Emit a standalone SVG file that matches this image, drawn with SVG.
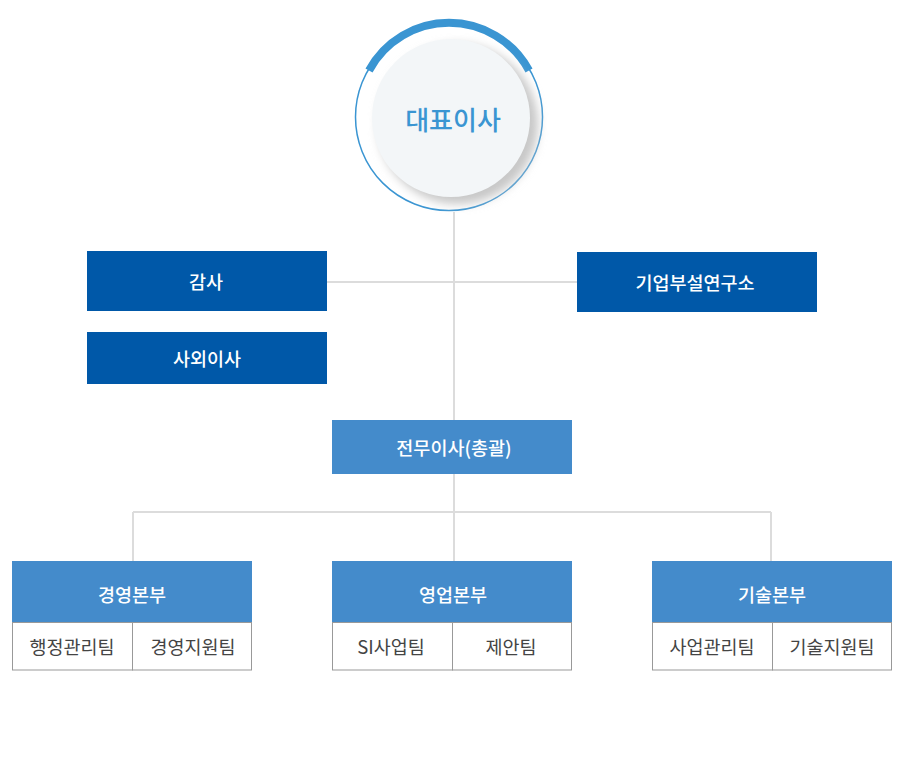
<svg xmlns="http://www.w3.org/2000/svg" width="906" height="761" viewBox="0 0 906 761">
<defs>
<style>
.lbl{font-family:"Noto Sans CJK KR","Noto Sans",sans-serif;font-size:18.5px;font-weight:500;fill:#fff;text-anchor:middle;dominant-baseline:central}
.sub{font-family:"Noto Sans CJK KR","Noto Sans",sans-serif;font-size:18.5px;fill:#444;text-anchor:middle;dominant-baseline:central}
.dark{fill:#0058a8}
.mid{fill:#448bcb}
.cell{fill:#fff;stroke:#999;stroke-width:1}
.con{stroke:#dcdcdc;stroke-width:2;fill:none}
</style>
<filter id="sh" x="-30%" y="-30%" width="160%" height="160%">
<feGaussianBlur stdDeviation="5"/>
</filter>
</defs>
<g id="connectors">
<path class="con" d="M454 212V420M327 282H577M454 474V561M133 512H771M133 512V561M771 512V561"/>
</g>
<g id="ceo">
<circle cx="449" cy="117" r="93.5" fill="#fff" stroke="#3a95d2" stroke-width="1.5"/>
<path d="M369 70.5 A91 91 0 0 1 529 70.5" fill="none" stroke="#3a95d2" stroke-width="8"/>
<circle cx="458" cy="124" r="80" fill="#c8c8c8" filter="url(#sh)"/>
<circle cx="451" cy="118" r="79" fill="#f3f6f8"/>
<text x="453" y="118" font-family="'Noto Sans CJK KR','Noto Sans',sans-serif" font-size="26" font-weight="500" fill="#3a95d2" text-anchor="middle" dominant-baseline="central">대표이사</text>
</g>
<g id="audit">
<rect class="dark" x="87" y="251" width="240" height="60"/>
<text class="lbl" x="206" y="281">감사</text>
</g>
<g id="outside-director">
<rect class="dark" x="87" y="332" width="240" height="52"/>
<text class="lbl" x="207" y="358">사외이사</text>
</g>
<g id="lab">
<rect class="dark" x="577" y="252" width="240" height="60"/>
<text class="lbl" x="695" y="282">기업부설연구소</text>
</g>
<g id="managing-director">
<rect class="mid" x="332" y="420" width="240" height="54"/>
<text class="lbl" x="454" y="447">전무이사(총괄)</text>
</g>
<g id="hq-management">
<rect class="mid" x="12" y="561" width="240" height="61"/>
<text class="lbl" x="132" y="594">경영본부</text>
<rect class="cell" x="12.5" y="622.5" width="120" height="47.5"/>
<rect class="cell" x="132.5" y="622.5" width="119" height="47.5"/>
<text class="sub" x="72" y="646">행정관리팀</text>
<text class="sub" x="193" y="646">경영지원팀</text>
</g>
<g id="hq-sales">
<rect class="mid" x="332" y="561" width="240" height="61"/>
<text class="lbl" x="453" y="594">영업본부</text>
<rect class="cell" x="332.5" y="622.5" width="120" height="47.5"/>
<rect class="cell" x="452.5" y="622.5" width="119" height="47.5"/>
<text class="sub" x="391" y="646">SI사업팀</text>
<text class="sub" x="511" y="646">제안팀</text>
</g>
<g id="hq-tech">
<rect class="mid" x="652" y="561" width="240" height="61"/>
<text class="lbl" x="772" y="594">기술본부</text>
<rect class="cell" x="652.5" y="622.5" width="120" height="47.5"/>
<rect class="cell" x="772.5" y="622.5" width="119" height="47.5"/>
<text class="sub" x="712" y="646">사업관리팀</text>
<text class="sub" x="832" y="646">기술지원팀</text>
</g>
</svg>
